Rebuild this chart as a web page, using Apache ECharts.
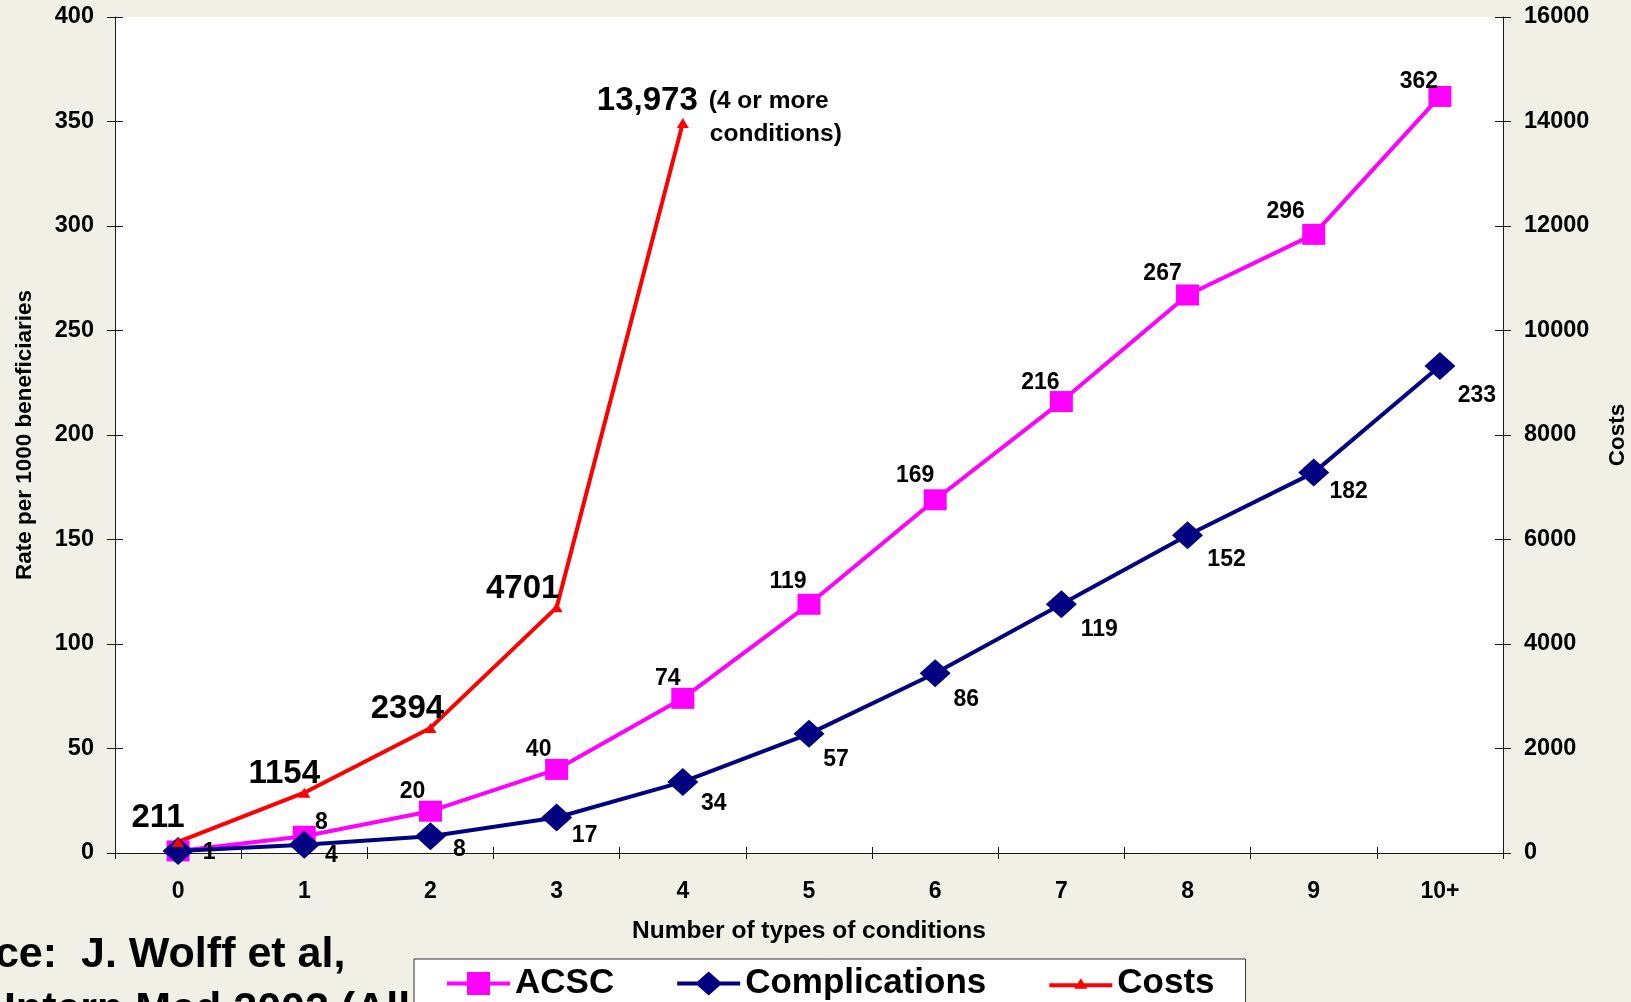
<!DOCTYPE html>
<html>
<head>
<meta charset="utf-8">
<script src="https://cdn.jsdelivr.net/npm/echarts@6/dist/echarts.min.js"></script>
<style>
  html, body { margin: 0; padding: 0; background: #F1F0E6; }
  #chart { width: 1631px; height: 1002px; }
</style>
</head>
<body>
<div id="chart"></div>
<script>
// Number of types of chronic conditions
const categories = ['0', '1', '2', '3', '4', '5', '6', '7', '8', '9', '10+'];
// Ambulatory care sensitive condition hospitalizations, per 1000 beneficiaries
const acsc = [1, 8, 20, 40, 74, 119, 169, 216, 267, 296, 362];
// Preventable complications, per 1000 beneficiaries
const complications = [1, 4, 8, 17, 34, 57, 86, 119, 152, 182, 233];
// Per capita costs (the last point covers 4 or more conditions)
const costs = [211, 1154, 2394, 4701, 13973];
// Axis ranges: [min, max, step]
const rateAxis = [0, 400, 50];
const costAxis = [0, 16000, 2000];

const FONT = "'Liberation Sans', Arial, Helvetica, sans-serif";
const AXIS_COLOR = '#1a1a1a';

// Label placement relative to each marker centre
const acscLabelOffsets = [null, [17, -14], [-18, -20], [-18, -20], [-15, -20], [-21, -23], [-20, -24], [-21, -19], [-25, -21], [-28, -23], [-21, -15]];
const compLabelOffsets = [[31, 2], [27, 11], [29, 13], [28, 18], [31, 22], [27, 26], [31, 26], [38, 25], [39, 24], [35, 19], [37, 30]];
const costLabelOffsets = [[-20, -24], [-20, -19], [-23, -19], [-34, -18]];

const labelBase = {
  show: true,
  position: 'inside',
  color: '#000',
  fontFamily: FONT,
  fontWeight: 'bold',
  fontSize: 23,
  align: 'center',
  verticalAlign: 'middle'
};

const acscData = acsc.map((v, i) => ({
  value: v,
  label: acscLabelOffsets[i] ? { offset: acscLabelOffsets[i] } : { show: false }
}));
const compData = complications.map((v, i) => ({
  value: v,
  label: { offset: compLabelOffsets[i] }
}));
const costData = costs.map((v, i) => {
  if (i < costLabelOffsets.length) {
    return { value: v, label: { offset: costLabelOffsets[i] } };
  }
  // The open-ended group carries a note beside its value
  return {
    value: v,
    label: {
      align: 'left',
      verticalAlign: 'top',
      offset: [-86, -39],
      formatter: (p) => '{a|' + p.value.toLocaleString('en-US') + '}{gap|}{b|(4 or more}\n{sp|}{b|conditions)}',
      rich: {
        a: { fontFamily: FONT, fontWeight: 'bold', fontSize: 33, lineHeight: 34, color: '#000', verticalAlign: 'middle' },
        b: { fontFamily: FONT, fontWeight: 'bold', fontSize: 24.5, lineHeight: 26, color: '#000', verticalAlign: 'middle' },
        gap: { width: 11 },
        sp: { width: 113 }
      }
    }
  };
});

const axisText = { fontFamily: FONT, fontWeight: 'bold', color: '#000' };
const lineStyleAxis = { color: AXIS_COLOR, width: 1 };

function yAxisPair(range, position, name, nameGap) {
  return [
    {
      type: 'value', position: position,
      min: range[0], max: range[1], interval: range[2],
      axisLine: { show: true, lineStyle: lineStyleAxis },
      axisTick: { show: true, length: 8, lineStyle: lineStyleAxis },
      axisLabel: Object.assign({ fontSize: 23.5, margin: 21, formatter: (v) => String(v) }, axisText),
      splitLine: { show: false },
      name: name, nameLocation: 'middle', nameRotate: 90, nameGap: nameGap,
      nameTextStyle: Object.assign({ fontSize: 22.5 }, axisText)
    },
    {
      // inner half of the crossing tick marks
      type: 'value', position: position,
      min: range[0], max: range[1], interval: range[2],
      axisLine: { show: false },
      axisTick: { show: true, inside: true, length: 8, lineStyle: lineStyleAxis },
      axisLabel: { show: false },
      splitLine: { show: false }
    }
  ];
}

const leftAxes = yAxisPair(rateAxis, 'left', 'Rate per 1000 beneficiaries', 79);
const rightAxes = yAxisPair(costAxis, 'right', 'Costs', 103);

const legendIcons = {
  ACSC: 'path://M0 10H63V14H0Z M20 0.5H43V23.5H20Z',
  Complications: 'path://M0 10H63V14H0Z M31.5 0L45 12L31.5 24L18 12Z',
  Costs: 'path://M0 10H63V14H0Z M31.5 5L38 15.5L25 15.5Z'
};

const chart = echarts.init(document.getElementById('chart'), null, { renderer: 'canvas' });
chart.setOption({
  animation: false,
  backgroundColor: '#F1F0E6',
  grid: {
    left: 115, right: 128, top: 17, bottom: 149,
    show: true, backgroundColor: '#ffffff', borderWidth: 0,
    containLabel: false, outerBoundsMode: 'none'
  },
  xAxis: [
    {
      type: 'category', data: categories, boundaryGap: true, position: 'bottom',
      axisLine: { show: true, lineStyle: lineStyleAxis },
      axisTick: { show: true, length: 6, interval: 0, lineStyle: lineStyleAxis },
      axisLabel: Object.assign({ fontSize: 23, margin: 27, interval: 0 }, axisText),
      splitLine: { show: false },
      name: 'Number of types of conditions', nameLocation: 'middle', nameGap: 66,
      nameTextStyle: Object.assign({ fontSize: 24.5 }, axisText)
    },
    {
      type: 'category', data: categories, boundaryGap: true, position: 'bottom',
      axisLine: { show: false },
      axisTick: { show: true, inside: true, length: 6, interval: 0, lineStyle: lineStyleAxis },
      axisLabel: { show: false },
      splitLine: { show: false }
    }
  ],
  yAxis: [leftAxes[0], rightAxes[0], leftAxes[1], rightAxes[1]],
  legend: {
    left: 414, top: 959,
    orient: 'horizontal',
    selectedMode: false,
    backgroundColor: '#ffffff',
    borderColor: '#333333', borderWidth: 1, borderRadius: 0,
    padding: [7, 31, 40, 33],
    itemGap: 63, itemWidth: 63, itemHeight: 24,
    symbolKeepAspect: true,
    itemStyle: { borderWidth: 0 },
    textStyle: { fontFamily: FONT, fontWeight: 'bold', fontSize: 35, color: '#000' },
    data: [
      { name: 'ACSC', icon: legendIcons.ACSC },
      { name: 'Complications', icon: legendIcons.Complications },
      { name: 'Costs', icon: legendIcons.Costs }
    ]
  },
  graphic: [
    {
      type: 'text', x: -103, y: 955, z: 0,
      style: { text: 'Source:  J. Wolff et al,', fontFamily: FONT, fontWeight: 'bold', fontSize: 43, fill: '#000', verticalAlign: 'middle' }
    },
    {
      type: 'text', x: -106, y: 1010, z: 0,
      style: { text: 'Arch Intern Med 2002 (All Medicare beneficiaries)', fontFamily: FONT, fontWeight: 'bold', fontSize: 43, fill: '#000', verticalAlign: 'middle' }
    }
  ],
  series: [
    {
      name: 'ACSC', type: 'line', xAxisIndex: 0, yAxisIndex: 0,
      data: acscData,
      symbol: 'rect', symbolSize: [23, 21], showAllSymbol: true,
      lineStyle: { color: '#FF00FF', width: 4 },
      itemStyle: { color: '#FF00FF', borderWidth: 0 },
      label: labelBase,
      emphasis: { disabled: true }
    },
    {
      name: 'Complications', type: 'line', xAxisIndex: 0, yAxisIndex: 0,
      data: compData,
      symbol: 'diamond', symbolSize: [31, 28], showAllSymbol: true,
      lineStyle: { color: '#000080', width: 4 },
      itemStyle: { color: '#000080', borderWidth: 0 },
      label: labelBase,
      emphasis: { disabled: true }
    },
    {
      name: 'Costs', type: 'line', xAxisIndex: 0, yAxisIndex: 1,
      data: costData,
      symbol: 'triangle', symbolSize: [12, 10], showAllSymbol: true,
      lineStyle: { color: '#FF0000', width: 4 },
      itemStyle: { color: '#FF0000', borderWidth: 0 },
      label: Object.assign({}, labelBase, { fontSize: 33 }),
      emphasis: { disabled: true }
    }
  ]
});
</script>
</body>
</html>
